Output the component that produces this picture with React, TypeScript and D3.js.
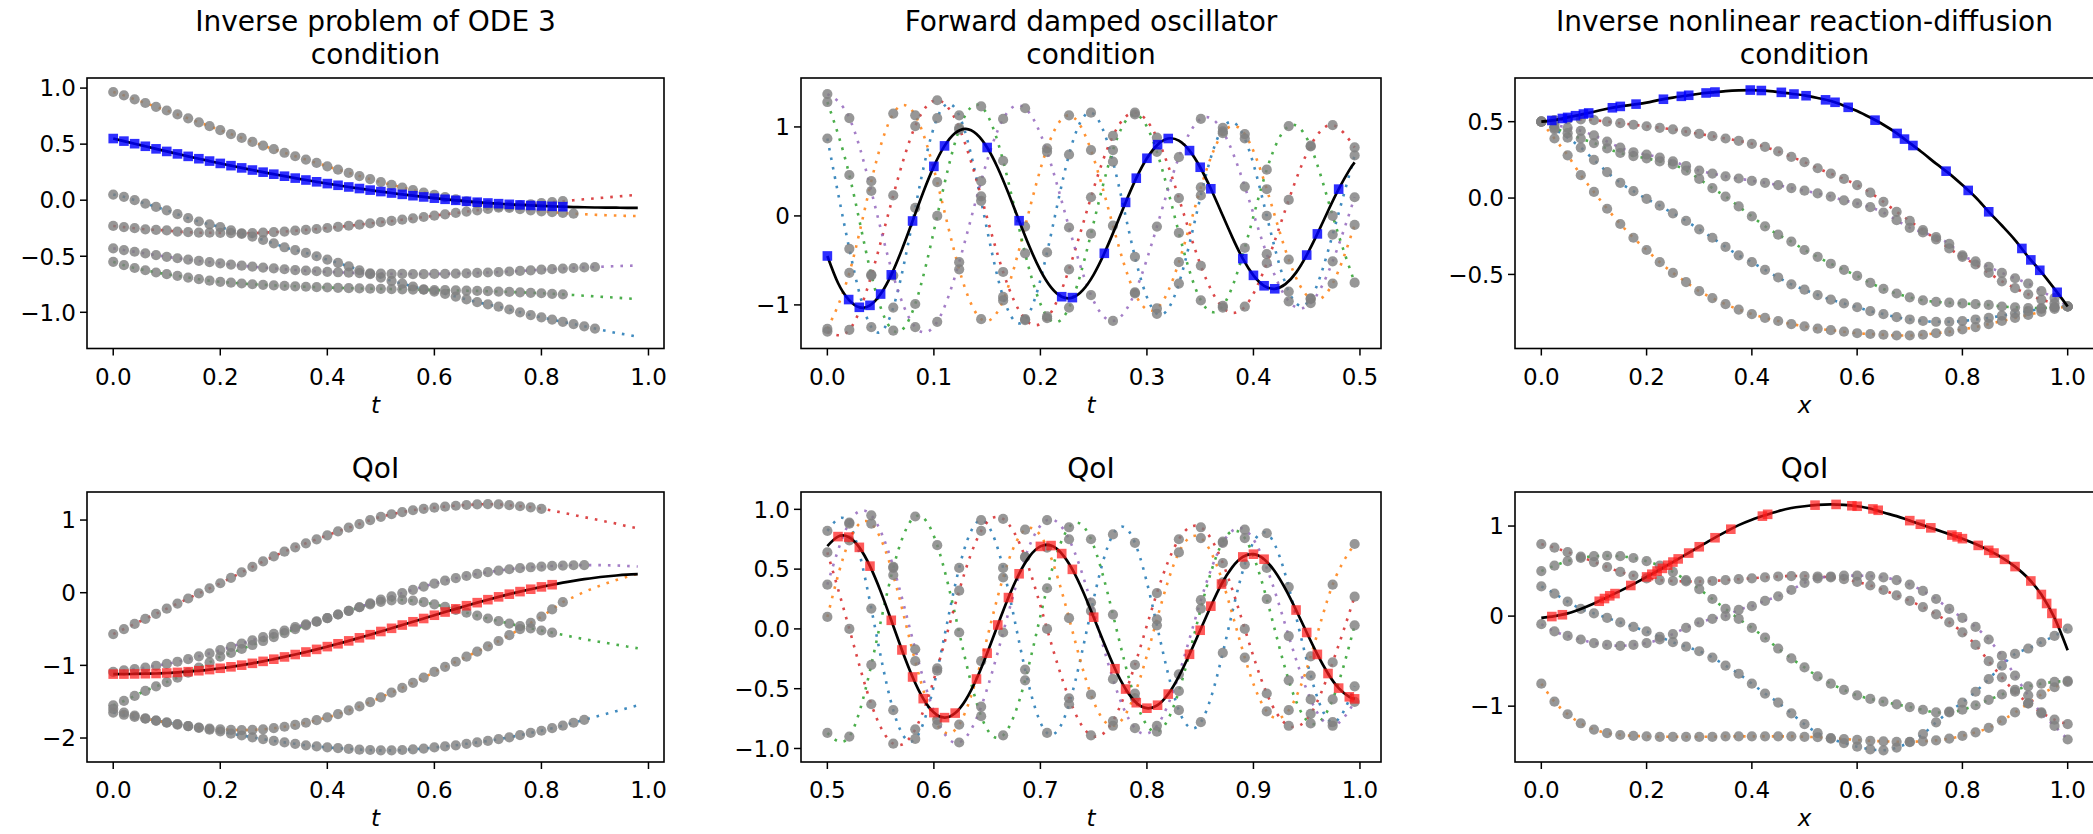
import React from 'react';
import * as d3 from 'd3';

const FONT = '"DejaVu Sans", sans-serif';
const C0 = '#1f77b4';
const C1 = '#ff7f0e';
const C2 = '#2ca02c';
const C3 = '#d62728';
const C4 = '#9467bd';

// ---------- Inverse problem of ODE 3 (t = 0 .. 0.98, step 0.02) ----------
const odeT = d3.range(50).map((i) => i * 0.02);
const odeCondBlue = [0.05, 0.03, 0.0, -0.03, -0.06, -0.09, -0.125, -0.16, -0.19, -0.215, -0.24, -0.27, -0.3, -0.325, -0.355, -0.385, -0.42, -0.445, -0.47, -0.5, -0.53, -0.56, -0.59, -0.625, -0.66, -0.69, -0.72, -0.745, -0.77, -0.795, -0.815, -0.835, -0.86, -0.885, -0.91, -0.93, -0.95, -0.975, -1.0, -1.025, -1.045, -1.065, -1.085, -1.105, -1.125, -1.145, -1.165, -1.185, -1.2, -1.22];
const odeCondOrange = [0.965, 0.935, 0.9, 0.867, 0.833, 0.8, 0.765, 0.73, 0.695, 0.66, 0.625, 0.59, 0.555, 0.52, 0.487, 0.455, 0.423, 0.392, 0.362, 0.332, 0.302, 0.272, 0.243, 0.215, 0.188, 0.162, 0.137, 0.113, 0.09, 0.068, 0.047, 0.027, 0.008, -0.01, -0.027, -0.042, -0.056, -0.069, -0.08, -0.09, -0.099, -0.107, -0.114, -0.12, -0.125, -0.13, -0.134, -0.137, -0.14, -0.142];
const odeCondGreen = [-0.55, -0.58, -0.605, -0.625, -0.645, -0.66, -0.675, -0.69, -0.705, -0.718, -0.728, -0.736, -0.743, -0.75, -0.755, -0.76, -0.764, -0.768, -0.772, -0.776, -0.779, -0.782, -0.785, -0.787, -0.789, -0.791, -0.793, -0.795, -0.797, -0.799, -0.801, -0.803, -0.805, -0.807, -0.809, -0.812, -0.815, -0.818, -0.822, -0.826, -0.83, -0.835, -0.84, -0.846, -0.852, -0.858, -0.864, -0.87, -0.876, -0.882];
const odeCondRed = [-0.23, -0.24, -0.25, -0.26, -0.265, -0.27, -0.28, -0.285, -0.29, -0.29, -0.292, -0.294, -0.295, -0.294, -0.29, -0.285, -0.28, -0.272, -0.265, -0.257, -0.248, -0.238, -0.228, -0.218, -0.207, -0.196, -0.185, -0.174, -0.162, -0.15, -0.138, -0.126, -0.114, -0.102, -0.09, -0.078, -0.067, -0.056, -0.046, -0.036, -0.027, -0.018, -0.009, 0.0, 0.008, 0.016, 0.024, 0.032, 0.04, 0.048];
const odeCondPurple = [-0.43, -0.445, -0.46, -0.475, -0.49, -0.505, -0.518, -0.53, -0.542, -0.553, -0.564, -0.574, -0.584, -0.593, -0.601, -0.609, -0.616, -0.623, -0.629, -0.634, -0.639, -0.643, -0.647, -0.65, -0.653, -0.655, -0.657, -0.658, -0.659, -0.659, -0.658, -0.657, -0.655, -0.652, -0.649, -0.645, -0.641, -0.636, -0.631, -0.626, -0.62, -0.615, -0.61, -0.605, -0.6, -0.596, -0.592, -0.588, -0.585, -0.582];
const odeCondTarget = [0.55, 0.527, 0.504, 0.481, 0.458, 0.435, 0.413, 0.391, 0.37, 0.349, 0.328, 0.308, 0.288, 0.269, 0.25, 0.232, 0.214, 0.197, 0.18, 0.164, 0.148, 0.133, 0.118, 0.104, 0.09, 0.077, 0.064, 0.052, 0.04, 0.029, 0.018, 0.008, -0.001, -0.01, -0.018, -0.025, -0.031, -0.037, -0.042, -0.047, -0.051, -0.055, -0.058, -0.061, -0.063, -0.065, -0.066, -0.067, -0.068, -0.068];

const odeQoiBlue = [-1.65, -1.68, -1.71, -1.735, -1.76, -1.785, -1.81, -1.835, -1.86, -1.885, -1.91, -1.94, -1.965, -1.99, -2.015, -2.04, -2.06, -2.08, -2.1, -2.115, -2.13, -2.14, -2.15, -2.16, -2.165, -2.17, -2.17, -2.165, -2.155, -2.145, -2.13, -2.115, -2.1, -2.08, -2.06, -2.04, -2.015, -1.99, -1.96, -1.93, -1.9, -1.865, -1.83, -1.79, -1.75, -1.71, -1.67, -1.63, -1.59, -1.55];
const odeQoiOrange = [-1.6, -1.65, -1.69, -1.73, -1.76, -1.79, -1.815, -1.835, -1.855, -1.87, -1.88, -1.887, -1.89, -1.888, -1.88, -1.865, -1.845, -1.82, -1.79, -1.755, -1.715, -1.67, -1.62, -1.565, -1.505, -1.44, -1.375, -1.31, -1.24, -1.17, -1.09, -1.02, -0.95, -0.88, -0.81, -0.74, -0.665, -0.585, -0.5, -0.415, -0.33, -0.23, -0.13, -0.06, 0.01, 0.07, 0.125, 0.175, 0.22, 0.26];
const odeQoiGreen = [-1.55, -1.49, -1.42, -1.35, -1.29, -1.23, -1.17, -1.1, -1.03, -0.96, -0.88, -0.83, -0.775, -0.72, -0.665, -0.61, -0.555, -0.5, -0.45, -0.4, -0.35, -0.3, -0.25, -0.2, -0.16, -0.125, -0.105, -0.1, -0.11, -0.13, -0.16, -0.195, -0.235, -0.275, -0.315, -0.355, -0.39, -0.425, -0.46, -0.49, -0.52, -0.55, -0.58, -0.61, -0.64, -0.665, -0.69, -0.715, -0.74, -0.765];
const odeQoiRed = [-0.57, -0.5, -0.43, -0.36, -0.29, -0.22, -0.15, -0.08, -0.01, 0.06, 0.13, 0.205, 0.28, 0.355, 0.43, 0.5, 0.565, 0.625, 0.68, 0.735, 0.79, 0.845, 0.895, 0.945, 1.0, 1.045, 1.08, 1.11, 1.135, 1.155, 1.17, 1.185, 1.197, 1.207, 1.215, 1.218, 1.215, 1.205, 1.19, 1.175, 1.155, 1.13, 1.1, 1.07, 1.04, 1.01, 0.98, 0.95, 0.915, 0.885];
const odeQoiPurple = [-1.09, -1.07, -1.05, -1.03, -1.005, -0.98, -0.95, -0.915, -0.875, -0.835, -0.79, -0.745, -0.7, -0.655, -0.61, -0.565, -0.52, -0.475, -0.435, -0.395, -0.35, -0.3, -0.25, -0.2, -0.145, -0.095, -0.05, -0.005, 0.04, 0.085, 0.125, 0.165, 0.2, 0.23, 0.258, 0.283, 0.305, 0.323, 0.338, 0.35, 0.36, 0.368, 0.374, 0.378, 0.38, 0.38, 0.378, 0.374, 0.368, 0.36];
const odeQoiTarget = [-1.12, -1.12, -1.118, -1.115, -1.112, -1.105, -1.097, -1.087, -1.074, -1.058, -1.04, -1.02, -0.997, -0.972, -0.945, -0.915, -0.884, -0.851, -0.816, -0.78, -0.742, -0.703, -0.663, -0.621, -0.578, -0.534, -0.49, -0.445, -0.4, -0.355, -0.31, -0.266, -0.222, -0.179, -0.137, -0.096, -0.057, -0.02, 0.015, 0.048, 0.08, 0.11, 0.138, 0.163, 0.186, 0.206, 0.223, 0.237, 0.248, 0.255];

// ---------- Forward damped oscillator ----------
const oscCondT = d3.range(25).map((i) => i * 0.020625);
const oscQoiT = d3.range(25).map((i) => 0.5 + i * 0.020625);
const oscCondBlue = [0.87, -0.37, -1.25, -1.03, 0.09, 1.1, 1.13, 0.17, -0.91, -1.17, -0.41, 0.69, 1.16, 0.61, -0.46, -1.1, -0.76, 0.23, 0.99, 0.87, 0.0, -0.85, -0.93, -0.21, 0.68];
const oscCondOrange = [-1.27, -0.64, 0.39, 1.15, 1.13, 0.38, -0.6, -1.16, -0.95, -0.12, 0.76, 1.13, 0.74, -0.11, -0.87, -1.04, -0.52, 0.32, 0.93, 0.92, 0.3, -0.49, -0.93, -0.76, -0.1];
const oscCondGreen = [1.28, 0.46, -0.66, -1.29, -0.99, 0.0, 0.97, 1.23, 0.62, -0.42, -1.13, -1.03, -0.2, 0.74, 1.14, 0.72, -0.19, -0.95, -1.01, -0.36, 0.52, 1.01, 0.78, 0.0, -0.75];
const oscCondRed = [-1.3, -1.28, -0.67, 0.23, 1.01, 1.3, 0.99, 0.22, -0.63, -1.16, -1.15, -0.6, 0.21, 0.9, 1.16, 0.88, 0.2, -0.56, -1.03, -1.02, -0.53, 0.18, 0.79, 1.02, 0.77];
const oscCondPurple = [1.37, 1.1, 0.28, -0.67, -1.25, -1.19, -0.52, 0.39, 1.09, 1.21, 0.72, -0.13, -0.89, -1.18, -0.86, -0.12, 0.66, 1.09, 0.95, 0.33, -0.43, -0.96, -0.98, -0.51, 0.21];
const oscQoiBlue = [0.82, 0.88, 0.17, -0.68, -0.92, -0.35, 0.51, 0.91, 0.51, -0.34, -0.87, -0.63, 0.15, 0.79, 0.72, 0.03, -0.68, -0.78, -0.2, 0.54, 0.8, 0.35, -0.39, -0.78, -0.48];
const oscQoiOrange = [0.1, 0.74, 0.88, 0.45, -0.27, -0.8, -0.8, -0.27, 0.43, 0.83, 0.68, 0.09, -0.55, -0.81, -0.54, 0.08, 0.64, 0.76, 0.39, -0.24, -0.69, -0.68, -0.23, 0.37, 0.71];
const oscQoiGreen = [-0.87, -0.9, -0.3, 0.51, 0.94, 0.7, -0.03, -0.73, -0.89, -0.43, 0.34, 0.85, 0.75, 0.12, -0.58, -0.86, -0.52, 0.17, 0.73, 0.76, 0.25, -0.43, -0.79, -0.59, 0.03];
const oscQoiRed = [0.64, 0.0, -0.63, -0.96, -0.84, -0.33, 0.32, 0.82, 0.92, 0.6, 0.0, -0.58, -0.89, -0.77, -0.3, 0.3, 0.75, 0.85, 0.55, 0.0, -0.54, -0.81, -0.71, -0.28, 0.27];
const oscQoiPurple = [0.37, 0.89, 0.95, 0.52, -0.17, -0.76, -0.95, -0.65, -0.03, 0.6, 0.91, 0.75, 0.22, -0.42, -0.83, -0.81, -0.38, 0.24, 0.72, 0.83, 0.51, -0.06, -0.59, -0.81, -0.61];
const oscCondTT = d3.range(50).map((i) => i * 0.01).concat([0.495]);
const oscCondTarget = [-0.45, -0.754, -0.94, -1.027, -1.005, -0.878, -0.662, -0.377, -0.057, 0.266, 0.557, 0.787, 0.932, 0.979, 0.921, 0.769, 0.539, 0.254, -0.054, -0.353, -0.612, -0.803, -0.908, -0.918, -0.831, -0.659, -0.42, -0.14, 0.152, 0.424, 0.648, 0.801, 0.87, 0.846, 0.734, 0.547, 0.305, 0.036, -0.235, -0.48, -0.668, -0.785, -0.819, -0.767, -0.637, -0.44, -0.202, 0.055, 0.301, 0.515, 0.602];
const oscCondSquares = [0, 2, 3, 4, 5, 6, 8, 10, 11, 15, 18, 22, 23, 26, 28, 29, 30, 31, 32, 34, 35, 36, 39, 40, 41, 42, 45, 46, 48];
const oscQoiTT = d3.range(50).map((i) => 0.5 + i * 0.01).concat([0.995]);
const oscQoiTarget = [0.693, 0.772, 0.768, 0.682, 0.525, 0.314, 0.072, -0.176, -0.402, -0.583, -0.7, -0.742, -0.704, -0.592, -0.419, -0.203, 0.033, 0.262, 0.461, 0.609, 0.69, 0.697, 0.63, 0.498, 0.313, 0.098, -0.125, -0.333, -0.503, -0.617, -0.663, -0.638, -0.545, -0.396, -0.212, -0.011, 0.19, 0.375, 0.515, 0.602, 0.625, 0.583, 0.483, 0.335, 0.158, -0.03, -0.213, -0.373, -0.495, -0.568, -0.585];
const oscQoiSquares = [1, 2, 3, 4, 6, 7, 8, 9, 10, 11, 12, 14, 15, 16, 17, 18, 20, 21, 22, 23, 25, 27, 28, 29, 30, 31, 32, 34, 35, 36, 37, 39, 40, 41, 44, 45, 46, 47, 48, 49, 50];

// ---------- Inverse nonlinear reaction-diffusion (x = 0 .. 1, step 0.025) ----------
const rdX = d3.range(41).map((i) => i * 0.025);
const rdCondBlue = [0.5, 0.45, 0.395, 0.33, 0.25, 0.17, 0.1, 0.045, -0.005, -0.05, -0.1, -0.15, -0.205, -0.26, -0.32, -0.375, -0.42, -0.47, -0.52, -0.565, -0.6, -0.635, -0.665, -0.69, -0.715, -0.74, -0.76, -0.78, -0.795, -0.805, -0.81, -0.81, -0.805, -0.795, -0.785, -0.77, -0.755, -0.74, -0.725, -0.715, -0.71];
const rdCondOrange = [0.5, 0.39, 0.28, 0.15, 0.04, -0.07, -0.17, -0.26, -0.34, -0.42, -0.49, -0.55, -0.61, -0.655, -0.695, -0.73, -0.76, -0.785, -0.805, -0.825, -0.84, -0.855, -0.865, -0.875, -0.885, -0.89, -0.895, -0.9, -0.9, -0.895, -0.885, -0.875, -0.86, -0.845, -0.825, -0.805, -0.785, -0.765, -0.745, -0.725, -0.71];
const rdCondGreen = [0.5, 0.46, 0.425, 0.39, 0.36, 0.325, 0.295, 0.275, 0.26, 0.24, 0.22, 0.18, 0.125, 0.065, 0.01, -0.055, -0.12, -0.185, -0.24, -0.285, -0.34, -0.385, -0.43, -0.47, -0.51, -0.555, -0.595, -0.625, -0.65, -0.67, -0.68, -0.685, -0.69, -0.695, -0.7, -0.71, -0.715, -0.72, -0.72, -0.715, -0.71];
const rdCondRed = [0.5, 0.51, 0.515, 0.515, 0.51, 0.5, 0.49, 0.48, 0.47, 0.46, 0.45, 0.435, 0.42, 0.405, 0.39, 0.375, 0.355, 0.335, 0.305, 0.27, 0.235, 0.195, 0.16, 0.125, 0.085, 0.035, -0.025, -0.09, -0.15, -0.21, -0.27, -0.33, -0.385, -0.435, -0.49, -0.545, -0.59, -0.63, -0.665, -0.69, -0.71];
const rdCondPurple = [0.5, 0.48, 0.46, 0.44, 0.41, 0.37, 0.33, 0.3, 0.285, 0.265, 0.24, 0.21, 0.18, 0.16, 0.142, 0.128, 0.113, 0.1, 0.085, 0.065, 0.048, 0.03, 0.01, -0.015, -0.035, -0.06, -0.095, -0.145, -0.195, -0.225, -0.255, -0.3, -0.375, -0.415, -0.45, -0.49, -0.525, -0.56, -0.61, -0.655, -0.71];
const rdCondTarget = [0.5, 0.51, 0.528, 0.546, 0.565, 0.585, 0.6, 0.612, 0.625, 0.643, 0.658, 0.67, 0.683, 0.692, 0.7, 0.705, 0.707, 0.703, 0.694, 0.683, 0.672, 0.655, 0.635, 0.605, 0.57, 0.527, 0.48, 0.425, 0.36, 0.295, 0.225, 0.16, 0.085, 0.005, -0.09, -0.18, -0.275, -0.385, -0.485, -0.595, -0.71];
const rdCondSqX = [0.02, 0.04, 0.05, 0.065, 0.08, 0.09, 0.135, 0.15, 0.18, 0.232, 0.266, 0.28, 0.313, 0.33, 0.397, 0.418, 0.456, 0.48, 0.503, 0.54, 0.558, 0.583, 0.634, 0.676, 0.69, 0.706, 0.769, 0.811, 0.85, 0.913, 0.93, 0.947, 0.98];
const rdCondSqY = [0.508, 0.521, 0.528, 0.539, 0.55, 0.557, 0.591, 0.6, 0.615, 0.647, 0.666, 0.673, 0.688, 0.694, 0.707, 0.704, 0.692, 0.681, 0.67, 0.643, 0.627, 0.594, 0.51, 0.423, 0.386, 0.344, 0.176, 0.05, -0.09, -0.33, -0.405, -0.473, -0.617];

const rdQoiBlue = [0.33, 0.25, 0.16, 0.08, 0.03, -0.02, -0.07, -0.12, -0.17, -0.23, -0.29, -0.34, -0.39, -0.46, -0.55, -0.64, -0.75, -0.86, -0.96, -1.08, -1.2, -1.3, -1.36, -1.41, -1.45, -1.48, -1.49, -1.46, -1.4, -1.31, -1.18, -1.06, -0.96, -0.84, -0.7, -0.55, -0.42, -0.36, -0.29, -0.22, -0.14];
const rdQoiOrange = [-0.75, -0.95, -1.09, -1.19, -1.26, -1.3, -1.32, -1.33, -1.335, -1.34, -1.34, -1.34, -1.34, -1.34, -1.335, -1.335, -1.335, -1.335, -1.335, -1.335, -1.34, -1.345, -1.355, -1.365, -1.375, -1.385, -1.39, -1.395, -1.395, -1.39, -1.38, -1.36, -1.33, -1.29, -1.24, -1.16, -1.07, -0.97, -0.87, -0.79, -0.73];
const rdQoiGreen = [0.5, 0.56, 0.61, 0.645, 0.665, 0.67, 0.665, 0.645, 0.61, 0.56, 0.49, 0.4, 0.3, 0.19, 0.08, -0.03, -0.13, -0.24, -0.36, -0.47, -0.57, -0.67, -0.75, -0.82, -0.88, -0.92, -0.95, -0.98, -1.01, -1.04, -1.07, -1.07, -1.04, -0.99, -0.93, -0.87, -0.82, -0.78, -0.75, -0.73, -0.72];
const rdQoiRed = [0.8, 0.76, 0.71, 0.66, 0.6, 0.545, 0.49, 0.45, 0.42, 0.4, 0.39, 0.385, 0.385, 0.39, 0.4, 0.41, 0.42, 0.43, 0.44, 0.445, 0.445, 0.44, 0.43, 0.41, 0.38, 0.34, 0.29, 0.23, 0.17, 0.1, 0.02, -0.07, -0.18, -0.32, -0.5, -0.68, -0.84, -0.97, -1.07, -1.15, -1.2];
const rdQoiPurple = [-0.09, -0.17, -0.22, -0.26, -0.3, -0.32, -0.33, -0.32, -0.3, -0.26, -0.2, -0.13, -0.07, -0.03, 0.0, 0.07, 0.11, 0.17, 0.22, 0.29, 0.37, 0.42, 0.44, 0.45, 0.45, 0.445, 0.43, 0.4, 0.35, 0.28, 0.19, 0.08, -0.02, -0.12, -0.26, -0.44, -0.66, -0.88, -1.08, -1.22, -1.37];
const rdQoiTarget = [-0.02, 0.0, 0.03, 0.08, 0.14, 0.21, 0.28, 0.355, 0.435, 0.515, 0.6, 0.685, 0.77, 0.855, 0.935, 1.01, 1.07, 1.12, 1.165, 1.2, 1.22, 1.235, 1.24, 1.235, 1.22, 1.195, 1.15, 1.11, 1.06, 1.01, 0.96, 0.91, 0.86, 0.8, 0.73, 0.65, 0.55, 0.42, 0.24, -0.02, -0.38];
const rdQoiSqX = [0.02, 0.04, 0.11, 0.12, 0.13, 0.14, 0.17, 0.2, 0.21, 0.22, 0.23, 0.24, 0.25, 0.26, 0.28, 0.3, 0.33, 0.36, 0.42, 0.43, 0.52, 0.56, 0.59, 0.6, 0.63, 0.64, 0.7, 0.72, 0.74, 0.78, 0.79, 0.8, 0.83, 0.85, 0.86, 0.88, 0.9, 0.93, 0.95, 0.96, 0.97, 0.98];
const rdQoiSqY = [-0.005, 0.015, 0.165, 0.195, 0.225, 0.25, 0.34, 0.435, 0.465, 0.5, 0.53, 0.565, 0.6, 0.635, 0.7, 0.77, 0.87, 0.965, 1.11, 1.13, 1.232, 1.24, 1.225, 1.22, 1.19, 1.175, 1.06, 1.02, 0.98, 0.9, 0.88, 0.86, 0.785, 0.73, 0.7, 0.63, 0.55, 0.39, 0.24, 0.14, 0.03, -0.08];

// ---------- tick values ----------
const ticks01 = [0, 0.2, 0.4, 0.6, 0.8, 1.0];
const ticksOscCond = [0, 0.1, 0.2, 0.3, 0.4, 0.5];
const ticksOscQoi = [0.5, 0.6, 0.7, 0.8, 0.9, 1.0];

type Sample = { xs: number[]; ys: number[]; color: string; nObs: number };

type PanelProps = {
  id: string;
  left: number;
  top: number;
  width: number;
  height: number;
  xDomain: [number, number];
  yDomain: [number, number];
  xTicks: number[];
  yTicks: number[];
  yDigits: number;
  title: string[];
  titleY: number[];
  xLabel: string;
  samples: Sample[];
  targetX: number[];
  targetY: number[];
  sqX: number[];
  sqY: number[];
  sqColor: string;
  sqOpacity: number;
  curve: d3.CurveFactory;
};

const Panel = (p: PanelProps) => {
  const x = d3.scaleLinear().domain(p.xDomain).range([p.left, p.left + p.width]);
  const y = d3.scaleLinear().domain(p.yDomain).range([p.top + p.height, p.top]);
  const line = d3
    .line<[number, number]>()
    .x((d) => x(d[0]))
    .y((d) => y(d[1]))
    .curve(p.curve);
  const bottom = p.top + p.height;
  const xf = d3.format('.1f');
  const yf = d3.format(`.${p.yDigits}f`);
  const cx = p.left + p.width / 2;

  return (
    <g>
      <defs>
        <clipPath id={`clip-${p.id}`}>
          <rect x={p.left} y={p.top} width={p.width} height={p.height} />
        </clipPath>
      </defs>
      <g clipPath={`url(#clip-${p.id})`}>
        {p.samples.map((s, k) => (
          <path
            key={`l${k}`}
            d={line(d3.zip(s.xs, s.ys) as [number, number][]) || ''}
            fill="none"
            stroke={s.color}
            strokeOpacity={0.85}
            strokeWidth={2.6}
            strokeDasharray="2.6 7"
          />
        ))}
        {p.samples.map((s, k) => (
          <g key={`c${k}`}>
            {s.ys.slice(0, s.nObs).map((v, i) => (
              <circle key={i} cx={x(s.xs[i])} cy={y(v)} r={5.1} fill="#808080" fillOpacity={0.82} />
            ))}
          </g>
        ))}
        <path
          d={line(d3.zip(p.targetX, p.targetY) as [number, number][]) || ''}
          fill="none"
          stroke="#000"
          strokeWidth={2.7}
        />
        {p.sqX.map((sx, i) => (
          <rect
            key={`s${i}`}
            x={x(sx) - 4.8}
            y={y(p.sqY[i]) - 4.8}
            width={9.6}
            height={9.6}
            fill={p.sqColor}
            fillOpacity={p.sqOpacity}
          />
        ))}
      </g>
      <rect x={p.left} y={p.top} width={p.width} height={p.height} fill="none" stroke="#000" strokeWidth={1.6} />
      {p.xTicks.map((t) => (
        <g key={`xt${t}`}>
          <line x1={x(t)} x2={x(t)} y1={bottom} y2={bottom + 7} stroke="#000" strokeWidth={1.5} />
          <text x={x(t)} y={bottom + 36} textAnchor="middle" fontSize={23} fontFamily={FONT} fill="#000">
            {xf(t)}
          </text>
        </g>
      ))}
      {p.yTicks.map((t) => (
        <g key={`yt${t}`}>
          <line x1={p.left - 7} x2={p.left} y1={y(t)} y2={y(t)} stroke="#000" strokeWidth={1.5} />
          <text x={p.left - 11} y={y(t) + 8.3} textAnchor="end" fontSize={23} fontFamily={FONT} fill="#000">
            {yf(t)}
          </text>
        </g>
      ))}
      <text x={cx} y={bottom + 64} textAnchor="middle" fontSize={23} fontStyle="italic" fontFamily={FONT} fill="#000">
        {p.xLabel}
      </text>
      {p.title.map((line_, i) => (
        <text key={`t${i}`} x={cx} y={p.titleY[i]} textAnchor="middle" fontSize={28} fontFamily={FONT} fill="#000">
          {line_}
        </text>
      ))}
    </g>
  );
};

export default function App() {
  const row1 = { top: 78, height: 270.5, titleY: [31, 64] };
  const row2 = { top: 492, height: 270, titleY: [478] };
  const col1 = { left: 87, width: 577 };
  const col2 = { left: 801, width: 580 };
  const col3 = { left: 1515, width: 579 };

  const odeCondSamples: Sample[] = [
    { xs: odeT, ys: odeCondBlue, color: C0, nObs: 46 },
    { xs: odeT, ys: odeCondOrange, color: C1, nObs: 44 },
    { xs: odeT, ys: odeCondGreen, color: C2, nObs: 43 },
    { xs: odeT, ys: odeCondRed, color: C3, nObs: 43 },
    { xs: odeT, ys: odeCondPurple, color: C4, nObs: 46 },
  ];
  const odeQoiSamples: Sample[] = [
    { xs: odeT, ys: odeQoiBlue, color: C0, nObs: 45 },
    { xs: odeT, ys: odeQoiOrange, color: C1, nObs: 43 },
    { xs: odeT, ys: odeQoiGreen, color: C2, nObs: 42 },
    { xs: odeT, ys: odeQoiRed, color: C3, nObs: 41 },
    { xs: odeT, ys: odeQoiPurple, color: C4, nObs: 45 },
  ];
  const oscCondSamples: Sample[] = [
    { xs: oscCondT, ys: oscCondBlue, color: C0, nObs: 25 },
    { xs: oscCondT, ys: oscCondOrange, color: C1, nObs: 25 },
    { xs: oscCondT, ys: oscCondGreen, color: C2, nObs: 25 },
    { xs: oscCondT, ys: oscCondRed, color: C3, nObs: 25 },
    { xs: oscCondT, ys: oscCondPurple, color: C4, nObs: 25 },
  ];
  const oscQoiSamples: Sample[] = [
    { xs: oscQoiT, ys: oscQoiBlue, color: C0, nObs: 25 },
    { xs: oscQoiT, ys: oscQoiOrange, color: C1, nObs: 25 },
    { xs: oscQoiT, ys: oscQoiGreen, color: C2, nObs: 25 },
    { xs: oscQoiT, ys: oscQoiRed, color: C3, nObs: 25 },
    { xs: oscQoiT, ys: oscQoiPurple, color: C4, nObs: 25 },
  ];
  const rdCondSamples: Sample[] = [
    { xs: rdX, ys: rdCondBlue, color: C0, nObs: 41 },
    { xs: rdX, ys: rdCondOrange, color: C1, nObs: 41 },
    { xs: rdX, ys: rdCondGreen, color: C2, nObs: 41 },
    { xs: rdX, ys: rdCondRed, color: C3, nObs: 41 },
    { xs: rdX, ys: rdCondPurple, color: C4, nObs: 41 },
  ];
  const rdQoiSamples: Sample[] = [
    { xs: rdX, ys: rdQoiBlue, color: C0, nObs: 41 },
    { xs: rdX, ys: rdQoiOrange, color: C1, nObs: 41 },
    { xs: rdX, ys: rdQoiGreen, color: C2, nObs: 41 },
    { xs: rdX, ys: rdQoiRed, color: C3, nObs: 41 },
    { xs: rdX, ys: rdQoiPurple, color: C4, nObs: 41 },
  ];

  return (
    <div style={{ position: 'absolute', left: 0, top: 0 }}>
      <svg width={2093} height={834} style={{ display: 'block', background: '#fff' }}>
        <Panel
          id="p1" {...col1} top={row1.top} height={row1.height}
          xDomain={[-0.049, 1.029]} yDomain={[-1.323, 1.09]}
          xTicks={ticks01} yTicks={[-1, -0.5, 0, 0.5, 1]} yDigits={1}
          title={['Inverse problem of ODE 3', 'condition']} titleY={row1.titleY} xLabel="t"
          samples={odeCondSamples} targetX={odeT} targetY={odeCondTarget}
          sqX={odeT.slice(0, 43)} sqY={odeCondTarget.slice(0, 43)} sqColor="#0000ff" sqOpacity={0.82}
          curve={d3.curveMonotoneX}
        />
        <Panel
          id="p2" {...col2} top={row1.top} height={row1.height}
          xDomain={[-0.02475, 0.51975]} yDomain={[-1.49, 1.55]}
          xTicks={ticksOscCond} yTicks={[-1, 0, 1]} yDigits={0}
          title={['Forward damped oscillator', 'condition']} titleY={row1.titleY} xLabel="t"
          samples={oscCondSamples} targetX={oscCondTT} targetY={oscCondTarget}
          sqX={oscCondSquares.map((i) => oscCondTT[i])} sqY={oscCondSquares.map((i) => oscCondTarget[i])}
          sqColor="#0000ff" sqOpacity={0.82}
          curve={d3.curveNatural}
        />
        <Panel
          id="p3" {...col3} top={row1.top} height={row1.height}
          xDomain={[-0.05, 1.05]} yDomain={[-0.985, 0.786]}
          xTicks={ticks01} yTicks={[-0.5, 0, 0.5]} yDigits={1}
          title={['Inverse nonlinear reaction-diffusion', 'condition']} titleY={row1.titleY} xLabel="x"
          samples={rdCondSamples} targetX={rdX} targetY={rdCondTarget}
          sqX={rdCondSqX} sqY={rdCondSqY} sqColor="#0000ff" sqOpacity={0.82}
          curve={d3.curveMonotoneX}
        />
        <Panel
          id="p4" {...col1} top={row2.top} height={row2.height}
          xDomain={[-0.049, 1.029]} yDomain={[-2.33, 1.386]}
          xTicks={ticks01} yTicks={[-2, -1, 0, 1]} yDigits={0}
          title={['QoI']} titleY={row2.titleY} xLabel="t"
          samples={odeQoiSamples} targetX={odeT} targetY={odeQoiTarget}
          sqX={odeT.slice(0, 42)} sqY={odeQoiTarget.slice(0, 42)} sqColor="#ff1a1a" sqOpacity={0.72}
          curve={d3.curveMonotoneX}
        />
        <Panel
          id="p5" {...col2} top={row2.top} height={row2.height}
          xDomain={[0.47525, 1.01975]} yDomain={[-1.113, 1.145]}
          xTicks={ticksOscQoi} yTicks={[-1, -0.5, 0, 0.5, 1]} yDigits={1}
          title={['QoI']} titleY={row2.titleY} xLabel="t"
          samples={oscQoiSamples} targetX={oscQoiTT} targetY={oscQoiTarget}
          sqX={oscQoiSquares.map((i) => oscQoiTT[i])} sqY={oscQoiSquares.map((i) => oscQoiTarget[i])}
          sqColor="#ff1a1a" sqOpacity={0.72}
          curve={d3.curveNatural}
        />
        <Panel
          id="p6" {...col3} top={row2.top} height={row2.height}
          xDomain={[-0.05, 1.05]} yDomain={[-1.62, 1.378]}
          xTicks={ticks01} yTicks={[-1, 0, 1]} yDigits={0}
          title={['QoI']} titleY={row2.titleY} xLabel="x"
          samples={rdQoiSamples} targetX={rdX} targetY={rdQoiTarget}
          sqX={rdQoiSqX} sqY={rdQoiSqY} sqColor="#ff1a1a" sqOpacity={0.72}
          curve={d3.curveMonotoneX}
        />
      </svg>
    </div>
  );
}
